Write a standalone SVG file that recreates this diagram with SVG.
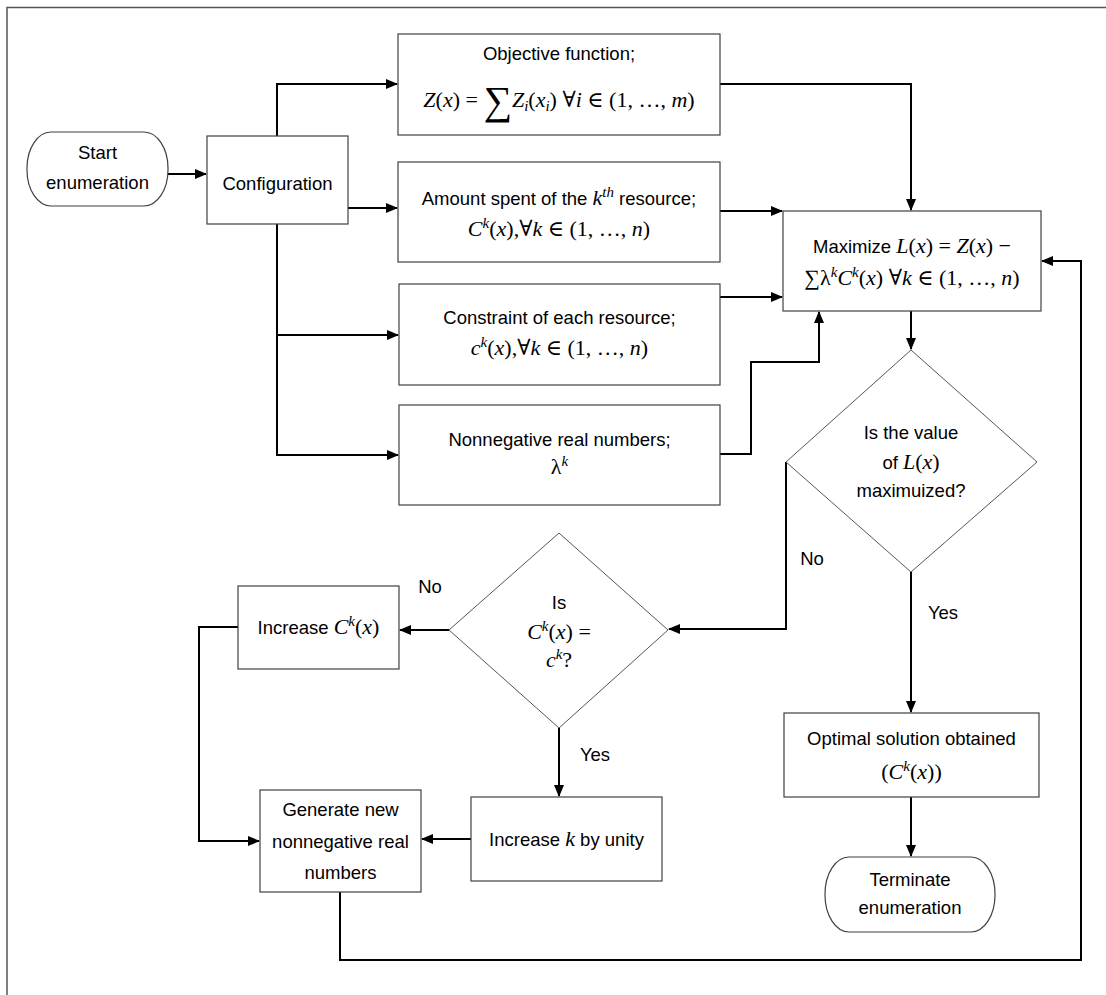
<svg xmlns="http://www.w3.org/2000/svg" width="1106" height="995" viewBox="0 0 1106 995">
<style>
.frame{fill:none;stroke:#555;stroke-width:1.5}
.box{fill:#fff;stroke:#404040;stroke-width:1.2}
.dia{fill:#fff;stroke:#555;stroke-width:1}
.c{fill:none;stroke:#000;stroke-width:2}
.t{font-family:"Liberation Sans",Arial,sans-serif;font-size:18.5px;fill:#000;text-anchor:middle}
.mt{font-family:"Liberation Serif","DejaVu Serif",serif;font-size:22px;fill:#000;text-anchor:middle}
.m{font-family:"Liberation Serif","DejaVu Serif",serif;font-size:22px}
.i{font-style:italic}
.sup{font-size:15px}
.sub{font-size:15px}
.lbl{font-family:"Liberation Sans",Arial,sans-serif;font-size:18.5px;fill:#000;text-anchor:middle}
</style>
<defs>
<marker id="ah" markerUnits="userSpaceOnUse" markerWidth="12" markerHeight="10" refX="11" refY="5" orient="auto">
<path d="M0,0 L12,5 L0,10 Z" fill="#000"/>
</marker>
</defs>
<rect width="1106" height="995" fill="#fff"/>
<path class="frame" d="M7,995 V7.5 H1106"/>

<g id="connectors">
<path class="c" d="M168,174 H206" marker-end="url(#ah)"/>
<path class="c" d="M277,136 V84 H397" marker-end="url(#ah)"/>
<path class="c" d="M348,208 H397" marker-end="url(#ah)"/>
<path class="c" d="M277,224 V455 H398" marker-end="url(#ah)"/>
<path class="c" d="M277,335 H398" marker-end="url(#ah)"/>
<path class="c" d="M720,84 H911 V210" marker-end="url(#ah)"/>
<path class="c" d="M720,211 H782" marker-end="url(#ah)"/>
<path class="c" d="M720,297 H782" marker-end="url(#ah)"/>
<path class="c" d="M720,454 H751 V362 H819 V312" marker-end="url(#ah)"/>
<path class="c" d="M911,311 V349" marker-end="url(#ah)"/>
<path class="c" d="M786,462 V629 H669" marker-end="url(#ah)"/>
<path class="c" d="M911,572 V712" marker-end="url(#ah)"/>
<path class="c" d="M911,797 V856" marker-end="url(#ah)"/>
<path class="c" d="M449,630 H400" marker-end="url(#ah)"/>
<path class="c" d="M559,728 V796" marker-end="url(#ah)"/>
<path class="c" d="M238,627 H199 V841 H259" marker-end="url(#ah)"/>
<path class="c" d="M471,839 H422" marker-end="url(#ah)"/>
<path class="c" d="M340,892 V960 H1081 V261 H1042" marker-end="url(#ah)"/>
<text class="lbl" x="812" y="565">No</text>
<text class="lbl" x="943" y="619">Yes</text>
<text class="lbl" x="430" y="593">No</text>
<text class="lbl" x="595" y="761">Yes</text>
</g>

<g id="start">
<rect class="box" x="27" y="132" width="141" height="74" rx="24" ry="36"/>
<text class="t" x="97.5" y="159">Start</text>
<text class="t" x="97.5" y="189">enumeration</text>
</g>

<g id="configuration">
<rect class="box" x="207" y="136" width="141" height="88"/>
<text class="t" x="277.5" y="190">Configuration</text>
</g>

<g id="objective">
<rect class="box" x="398" y="34" width="322" height="101"/>
<text class="t" x="559" y="60">Objective function;</text>
<text class="mt" x="559" y="107"><tspan class="i">Z</tspan>(<tspan class="i">x</tspan>) = <tspan font-size="40" dy="7">∑</tspan><tspan class="i" dy="-7">Z</tspan><tspan class="i sub" dy="4">i</tspan><tspan dy="-4">(</tspan><tspan class="i">x</tspan><tspan class="i sub" dy="4">i</tspan><tspan dy="-4">) ∀</tspan><tspan class="i">i</tspan> ∈ (1, …, <tspan class="i">m</tspan>)</text>
</g>

<g id="amount">
<rect class="box" x="398" y="162" width="322" height="100"/>
<text class="t" x="559" y="205">Amount spent of the <tspan class="m i">k</tspan><tspan class="m i sup" dy="-8">th</tspan><tspan dy="8"> resource;</tspan></text>
<text class="mt" x="559" y="236"><tspan class="i">C</tspan><tspan class="i sup" dy="-8">k</tspan><tspan dy="8">(</tspan><tspan class="i">x</tspan>),∀<tspan class="i">k</tspan> ∈ (1, …, <tspan class="i">n</tspan>)</text>
</g>

<g id="constraint">
<rect class="box" x="399" y="284" width="321" height="101"/>
<text class="t" x="559.5" y="324">Constraint of each resource;</text>
<text class="mt" x="559.5" y="355"><tspan class="i">c</tspan><tspan class="i sup" dy="-8">k</tspan><tspan dy="8">(</tspan><tspan class="i">x</tspan>),∀<tspan class="i">k</tspan> ∈ (1, …, <tspan class="i">n</tspan>)</text>
</g>

<g id="nonnegative">
<rect class="box" x="399" y="405" width="321" height="100"/>
<text class="t" x="559.5" y="446">Nonnegative real numbers;</text>
<text class="mt" x="559.5" y="474">λ<tspan class="i sup" dy="-8">k</tspan></text>
</g>

<g id="maximize">
<rect class="box" x="783" y="211" width="258" height="100"/>
<text class="t" x="912" y="253">Maximize <tspan class="m i">L</tspan><tspan class="m">(</tspan><tspan class="m i">x</tspan><tspan class="m">) = </tspan><tspan class="m i">Z</tspan><tspan class="m">(</tspan><tspan class="m i">x</tspan><tspan class="m">) −</tspan></text>
<text class="mt" x="912" y="285">∑λ<tspan class="i sup" dy="-8">k</tspan><tspan class="i" dy="8">C</tspan><tspan class="i sup" dy="-8">k</tspan><tspan dy="8">(</tspan><tspan class="i">x</tspan>) ∀<tspan class="i">k</tspan> ∈ (1, …, <tspan class="i">n</tspan>)</text>
</g>

<g id="decision-maximized">
<polygon class="dia" points="911,350 1037,462 911,572 786,462"/>
<text class="t" x="911" y="439">Is the value</text>
<text class="t" x="911" y="469">of  <tspan class="m i">L</tspan><tspan class="m">(</tspan><tspan class="m i">x</tspan><tspan class="m">)</tspan></text>
<text class="t" x="911" y="497">maximuized?</text>
</g>

<g id="decision-equal">
<polygon class="dia" points="559,533 668,630 559,728 449,630"/>
<text class="t" x="559" y="609">Is</text>
<text class="mt" x="559" y="639"><tspan class="i">C</tspan><tspan class="i sup" dy="-8">k</tspan><tspan dy="8">(</tspan><tspan class="i">x</tspan>) =</text>
<text class="mt" x="559" y="667"><tspan class="i">c</tspan><tspan class="i sup" dy="-8">k</tspan><tspan dy="8">?</tspan></text>
</g>

<g id="increase-c">
<rect class="box" x="238" y="586" width="161" height="83"/>
<text class="t" x="318.5" y="634">Increase <tspan class="m i">C</tspan><tspan class="m i sup" dy="-8">k</tspan><tspan class="m" dy="8">(</tspan><tspan class="m i">x</tspan><tspan class="m">)</tspan></text>
</g>

<g id="increase-k">
<rect class="box" x="471" y="797" width="191" height="84"/>
<text class="t" x="566.5" y="846">Increase <tspan class="m i">k</tspan> by unity</text>
</g>

<g id="generate">
<rect class="box" x="260" y="790" width="161" height="102"/>
<text class="t" x="340.5" y="816">Generate new</text>
<text class="t" x="340.5" y="848">nonnegative real</text>
<text class="t" x="340.5" y="879">numbers</text>
</g>

<g id="optimal">
<rect class="box" x="784" y="713" width="255" height="84"/>
<text class="t" x="911.5" y="745">Optimal solution obtained</text>
<text class="mt" x="911.5" y="779">(<tspan class="i">C</tspan><tspan class="i sup" dy="-8">k</tspan><tspan dy="8">(</tspan><tspan class="i">x</tspan>))</text>
</g>

<g id="terminate">
<rect class="box" x="825" y="857" width="170" height="75" rx="24" ry="37"/>
<text class="t" x="910" y="886">Terminate</text>
<text class="t" x="910" y="914">enumeration</text>
</g>
</svg>
